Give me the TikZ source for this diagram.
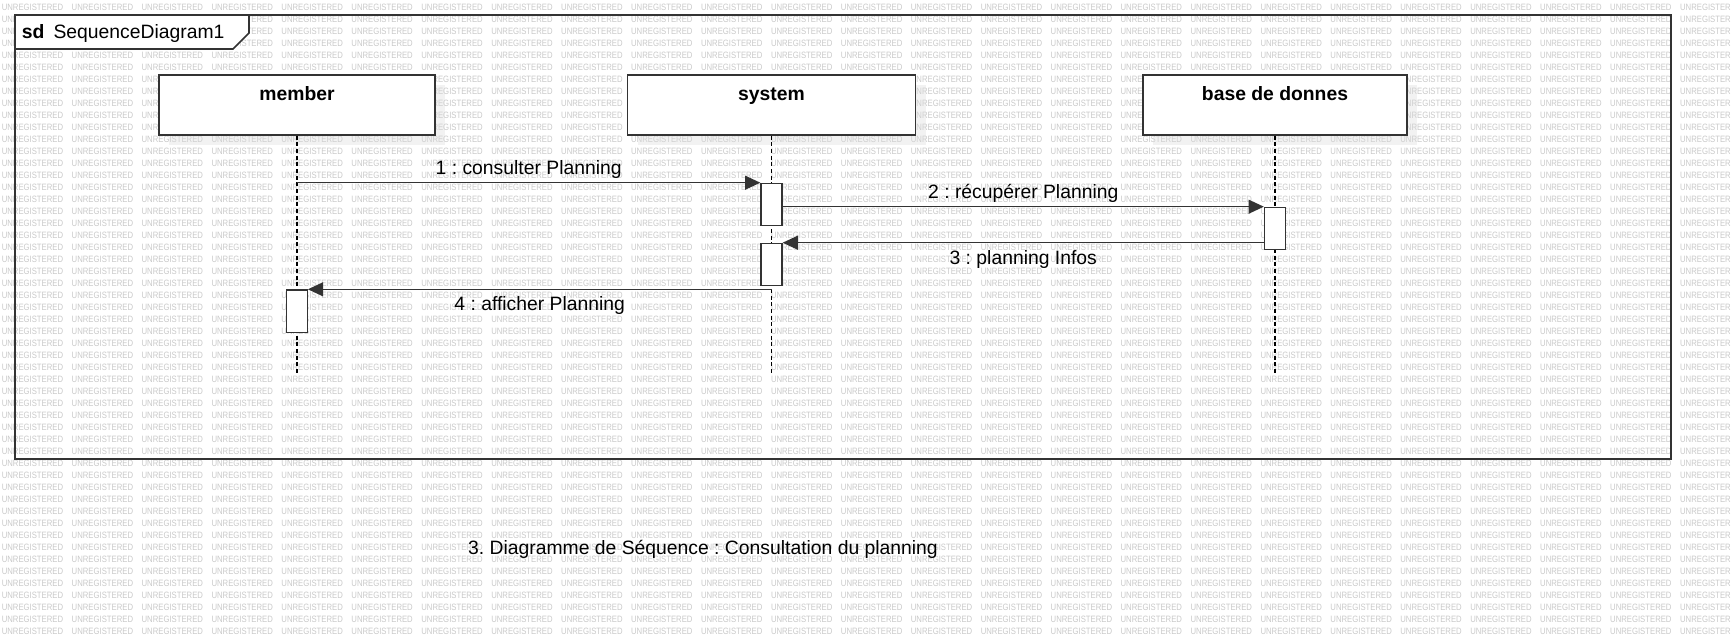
\documentclass[tikz,border=0pt]{standalone}
\usepackage{fontspec}
\setmainfont{Liberation Sans}
\usetikzlibrary{arrows.meta}
\usetikzlibrary{shadows}
\frenchspacing

\begin{document}
\begin{tikzpicture}[x=0.75pt, y=-0.75pt,
  watermark/.style={anchor=west, inner sep=0pt, text=black!21, font=\fontsize{6.9pt}{7pt}\selectfont},
  frameline/.style={draw=black!80, line width=1.3pt},
  lifehead/.style={draw=black!80, line width=1.1pt, fill=white, minimum height=45pt, inner sep=0pt,
    drop shadow={shadow xshift=7.5pt, shadow yshift=-7.5pt, opacity=0.35, fill=black!15}},
  headlabel/.style={anchor=base, inner sep=0pt, font=\fontsize{14.5pt}{17pt}\selectfont\bfseries},
  lifeline/.style={draw=black, line width=0.8pt, dash pattern=on 3pt off 2pt},
  act/.style={draw=black!80, line width=1pt, fill=white, minimum width=15.75pt, minimum height=31.7pt, inner sep=0pt, anchor=north},
  msg/.style={draw=black!80, line width=1pt, -{Triangle[length=11.5pt,width=10.5pt]}},
  msglabel/.style={inner sep=0pt, font=\fontsize{14.5pt}{17pt}\selectfont},
]
\useasboundingbox (0,0) rectangle (1731,642);

\foreach \i in {0,...,24}
  \foreach \j in {0,...,52}
    \node[watermark] (wm-\i-\j) at (1.5+69.93*\i, 7.5+12*\j) {\scalebox{0.84}[1]{UNREGISTERED}};

\draw[frameline] (15,15) rectangle (1671,459);
\draw[frameline, fill=white] (15,15) -- (249,15) -- (249,33) -- (233,49) -- (15,49) -- cycle;
\node[msglabel, anchor=base west] (sd-label) at (21.7,38.3) {\bfseries sd};
\node[msglabel, anchor=base west] (sd-name) at (53.3,38.3) {SequenceDiagram1};

\node[lifehead, minimum width=207pt] (member) at (297,105) {};
\node[lifehead, minimum width=216pt] (system) at (771.5,105) {};
\node[lifehead, minimum width=198pt] (bdd) at (1275,105) {};
\node[headlabel] (member-label) at (297,100.7) {member};
\node[headlabel] (system-label) at (771.5,100.7) {system};
\node[headlabel] (bdd-label) at (1275,100.7) {base de donnes};

\coordinate (member-end) at (297,374);
\coordinate (system-end) at (771.5,374);
\coordinate (bdd-end) at (1275,374);
\draw[lifeline] (member) -- (member-end);
\draw[lifeline] (system) -- (system-end);
\draw[lifeline] (bdd) -- (bdd-end);

\node[act] (sysact1) at (771.5,182.7) {};
\node[act] (bddact) at (1275,206.7) {};
\node[act] (sysact2) at (771.5,242.7) {};
\node[act] (memberact) at (296.7,289.3) {};

\coordinate (m1-start) at (297,182.7);
\draw[msg] (m1-start) -- (sysact1.north west)
  node[msglabel, midway, anchor=base, yshift=6.5pt] (m1-label) {1 : consulter Planning};
\draw[msg] (sysact1.east |- bddact.north) -- (bddact.north west)
  node[msglabel, midway, anchor=base, yshift=6.5pt] (m2-label) {2 : récupérer Planning};
\draw[msg] (bddact.west |- sysact2.north) -- (sysact2.north east)
  node[msglabel, midway, anchor=base, yshift=-16pt] (m3-label) {3 : planning Infos};
\draw[msg] (sysact2.south |- memberact.north) -- (memberact.north east)
  node[msglabel, midway, anchor=base, yshift=-16pt] (m4-label) {4 : afficher Planning};

\node[msglabel, anchor=base] (caption) at (703,554.3) {3. Diagramme de Séquence : Consultation du planning};

\end{tikzpicture}
\end{document}
